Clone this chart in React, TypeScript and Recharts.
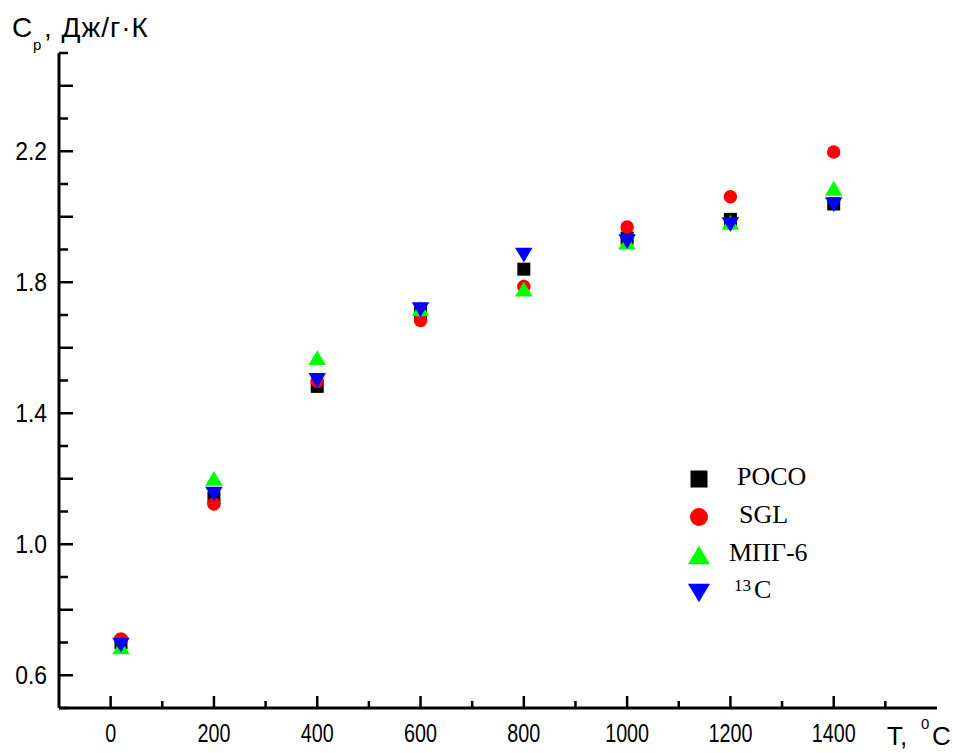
import { ScatterChart, Scatter, XAxis, YAxis, Legend } from "recharts";

// temperature, °C
const tempC = [20, 200, 400, 600, 800, 1000, 1200, 1400];

// Cp, J/g·K
const poco = [0.7, 1.141, 1.482, 1.706, 1.84, 1.935, 1.992, 2.039];
const sgl = [0.711, 1.123, 1.498, 1.683, 1.787, 1.969, 2.061, 2.198];
const mpg6 = [0.687, 1.201, 1.57, 1.719, 1.779, 1.923, 1.983, 2.087];
const c13 = [0.692, 1.153, 1.5, 1.716, 1.883, 1.924, 1.976, 2.037];

const xTicks = [0, 100, 200, 300, 400, 500, 600, 700, 800, 900, 1000, 1100, 1200, 1300, 1400, 1500];
const xTickLabels = [0, 200, 400, 600, 800, 1000, 1200, 1400];
const yTicks = [0.5, 0.6, 0.7, 0.8, 0.9, 1.0, 1.1, 1.2, 1.3, 1.4, 1.5, 1.6, 1.7, 1.8, 1.9, 2.0, 2.1, 2.2, 2.3, 2.4, 2.5];
const yTickLabels = [0.6, 1.0, 1.4, 1.8, 2.2];

const toPoints = (vals: number[]) => tempC.map((t, i) => ({ t, cp: vals[i] }));

const SANS = "'Liberation Sans', Arial, sans-serif";
const SERIF = "'Liberation Serif', 'Times New Roman', serif";

type MarkerKind = "square" | "circle" | "up" | "down";

function marker(kind: MarkerKind, cx: number, cy: number, s: number, color: string) {
  if (kind === "square") {
    return <rect x={cx - s / 2} y={cy - s / 2} width={s} height={s} fill={color} />;
  }
  if (kind === "circle") {
    return <circle cx={cx} cy={cy} r={s / 2} fill={color} />;
  }
  const w = s * 1.3;
  const h = s * 1.1;
  if (kind === "up") {
    return <polygon points={`${cx},${cy - h / 2} ${cx + w / 2},${cy + h / 2} ${cx - w / 2},${cy + h / 2}`} fill={color} />;
  }
  return <polygon points={`${cx - w / 2},${cy - h / 2} ${cx + w / 2},${cy - h / 2} ${cx},${cy + h / 2}`} fill={color} />;
}

const series = [
  { name: "POCO", data: toPoints(poco), color: "#000000", kind: "square" as MarkerKind, size: 13 },
  { name: "SGL", data: toPoints(sgl), color: "#ff0000", kind: "circle" as MarkerKind, size: 13.5 },
  { name: "МПГ-6", data: toPoints(mpg6), color: "#00ff00", kind: "up" as MarkerKind, size: 13.5 },
  { name: "13C", data: toPoints(c13), color: "#0000ff", kind: "down" as MarkerKind, size: 13.5 },
];

function XTick(props: any) {
  const { x, y, payload } = props;
  const v = payload.value;
  const major = v % 200 === 0;
  return (
    <g>
      <line x1={x} x2={x} y1={y} y2={y - (major ? 12 : 7)} stroke="#000" strokeWidth={2.5} />
      {xTickLabels.includes(v) && (
        <text
          transform={`translate(${x},${y + 25}) scale(0.76,1)`}
          textAnchor="middle"
          dy="0.35em"
          fontFamily={SANS}
          fontSize={26}
          fill="#000"
        >
          {v}
        </text>
      )}
    </g>
  );
}

function YTick(props: any) {
  const { x, y, payload } = props;
  const v = payload.value;
  const major = Math.round(v * 10) % 2 === 0;
  const lbl = yTickLabels.find((l) => Math.abs(l - v) < 1e-6);
  return (
    <g>
      <line x1={x} x2={x + (major ? 14 : 9)} y1={y} y2={y} stroke="#000" strokeWidth={2.5} />
      {lbl !== undefined && (
        <text
          transform={`translate(${x - 12},${y}) scale(0.88,1)`}
          textAnchor="end"
          dy="0.35em"
          fontFamily={SANS}
          fontSize={26}
          fill="#000"
        >
          {lbl.toFixed(1)}
        </text>
      )}
    </g>
  );
}

const legendDx: Record<string, number> = { POCO: 57, SGL: 59, "МПГ-6": 49, "13C": 54 };

function LegendBox() {
  return (
    <svg width={150} height={160} style={{ overflow: "visible" }}>
      {series.map((s, i) => {
        const cy = 21 + i * 38;
        const big = s.kind === "square" ? 17 : s.kind === "circle" ? 18 : 17;
        return (
          <g key={s.name}>
            {marker(s.kind, 19, cy, big, s.color)}
            {s.name === "13C" ? (
              <text fontFamily={SERIF} fontSize={26} fill="#000">
                <tspan x={legendDx[s.name]} y={cy - 2} fontSize={17}>13</tspan>
                <tspan x={legendDx[s.name] + 20} y={cy + 5}>C</tspan>
              </text>
            ) : (
              <text x={legendDx[s.name]} y={cy + 6} fontFamily={SERIF} fontSize={26} fill="#000">
                {s.name}
              </text>
            )}
          </g>
        );
      })}
    </svg>
  );
}

export default function App() {
  return (
    <div style={{ position: "absolute", left: 0, top: 0, background: "#fff" }}>
      <ScatterChart width={957} height={753} margin={{ top: 53, right: 20, bottom: 44, left: 58 }}>
        <XAxis
          type="number"
          dataKey="t"
          domain={[-100, 1600]}
          ticks={xTicks}
          interval={0}
          height={1}
          tickSize={0}
          tickMargin={0}
          tickLine={false}
          tick={<XTick />}
          axisLine={{ stroke: "#000", strokeWidth: 3 }}
          label={{
            content: () => (
              <text fontFamily={SANS} fontSize={26} fill="#000">
                <tspan x={887} y={745}>T,</tspan>
                <tspan x={921} y={729} fontSize={15}>0</tspan>
                <tspan x={932} y={745}>C</tspan>
              </text>
            ),
          }}
        />
        <YAxis
          type="number"
          dataKey="cp"
          domain={[0.5, 2.5]}
          ticks={yTicks}
          interval={0}
          width={1}
          tickSize={0}
          tickMargin={0}
          tickLine={false}
          tick={<YTick />}
          axisLine={{ stroke: "#000", strokeWidth: 3 }}
          label={{
            content: () => (
              <text fontFamily={SANS} fontSize={28} fill="#000">
                <tspan x={12} y={37}>C</tspan>
                <tspan x={33} y={50} fontSize={15}>p</tspan>
                <tspan x={44} y={37} letterSpacing={1}>, Дж/г·К</tspan>
              </text>
            ),
          }}
        />
        <Legend
          layout="vertical"
          align="center"
          verticalAlign="middle"
          wrapperStyle={{ left: 680, top: 458, width: 150 }}
          content={() => <LegendBox />}
        />
        {series.map((s) => (
          <Scatter
            key={s.name}
            name={s.name}
            data={s.data}
            fill={s.color}
            isAnimationActive={false}
            shape={(p: any) => marker(s.kind, p.cx, p.cy, s.size, s.color)}
          />
        ))}
      </ScatterChart>
    </div>
  );
}
